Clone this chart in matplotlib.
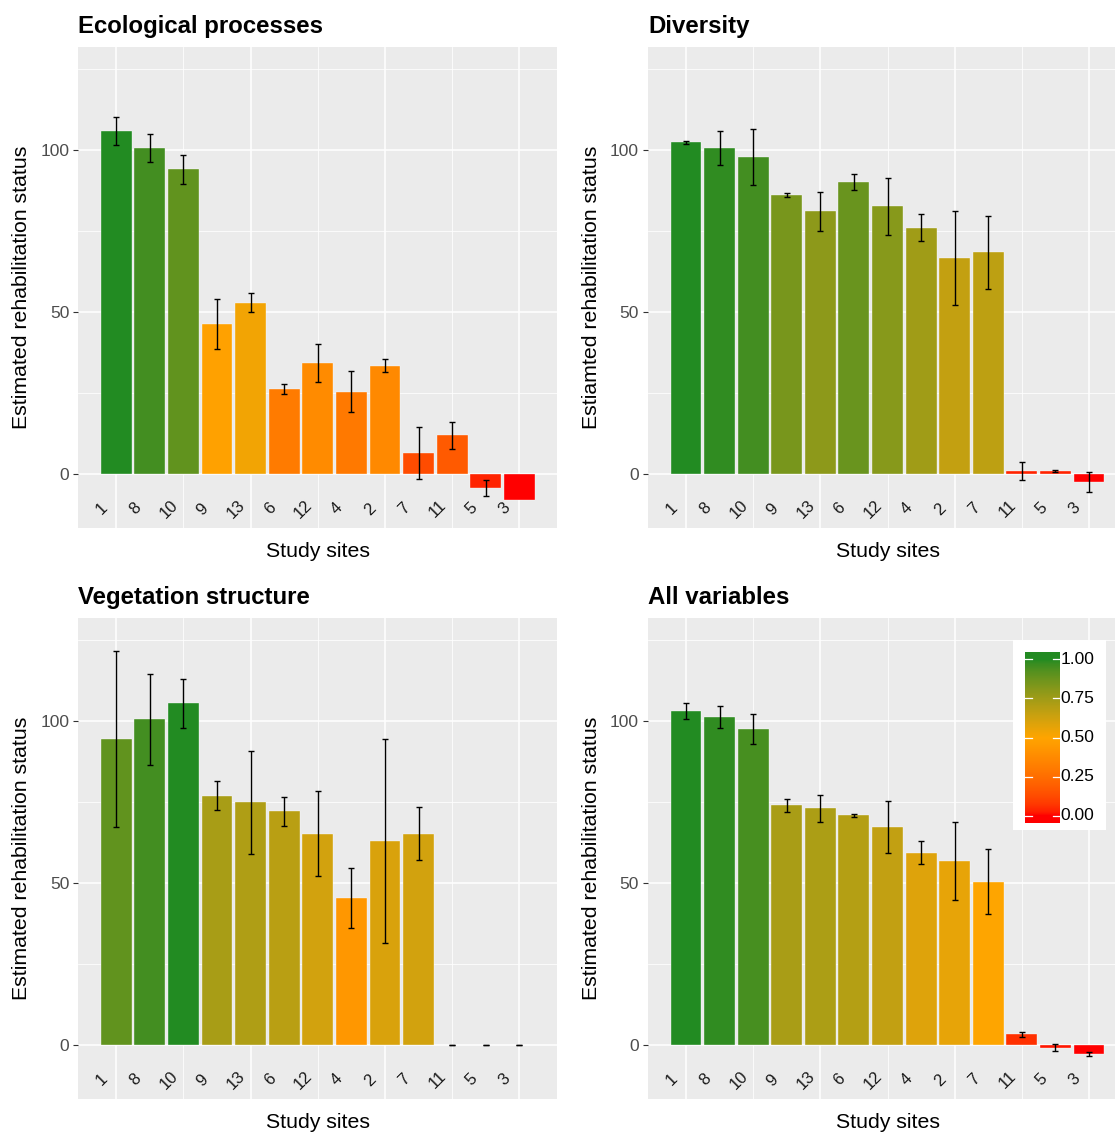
import numpy as np
import matplotlib
matplotlib.use("Agg")
import matplotlib.pyplot as plt
from matplotlib.colors import ListedColormap

plt.rcParams['font.family'] = ['Liberation Sans', 'DejaVu Sans']

# Study sites, in the order they are plotted
sites = ["1", "8", "10", "9", "13", "6", "12", "4", "2", "7", "11", "5", "3"]

titles = ["Ecological processes", "Diversity", "Vegetation structure", "All variables"]
ylabels = ["Estimated rehabilitation status", "Estiamted rehabilitation status",
           "Estimated rehabilitation status", "Estimated rehabilitation status"]

# Estimated rehabilitation status (mean) and error half-widths per panel
eco_mean = [105.8, 100.5, 93.9, 46.3, 52.8, 26.2, 34.2, 25.3, 33.4, 6.4, 11.9, -4.4, -8.1]
eco_err = [4.4, 4.4, 4.4, 7.8, 3.0, 1.4, 5.8, 6.3, 1.9, 8.1, 4.2, 2.5, np.nan]
div_mean = [102.3, 100.5, 97.7, 86.0, 81.0, 90.0, 82.5, 76.0, 66.7, 68.3, 0.9, 0.9, -2.4]
div_err = [0.5, 5.3, 8.6, 0.6, 6.0, 2.4, 8.8, 4.1, 14.5, 11.3, 2.8, 0.3, 3.1]
veg_mean = [94.4, 100.4, 105.3, 76.9, 74.8, 72.0, 65.2, 45.4, 63.0, 65.2, 0.0, 0.0, 0.0]
veg_err = [27.1, 14.1, 7.5, 4.4, 15.9, 4.5, 13.0, 9.2, 31.5, 8.3, 0.0, 0.0, 0.0]
all_mean = [102.9, 101.0, 97.4, 73.9, 73.0, 70.8, 67.3, 59.3, 56.8, 50.4, 3.3, -0.9, -2.8]
all_err = [2.5, 3.4, 4.6, 2.1, 4.1, 0.35, 8.0, 3.5, 12.0, 10.1, 0.7, 1.1, 0.5]

means = [eco_mean, div_mean, veg_mean, all_mean]
errs = [eco_err, div_err, veg_err, all_err]

legend_breaks = [0.0, 0.25, 0.5, 0.75, 1.0]


# red -> orange -> forestgreen, interpolated in Lab space like ggplot does
M = np.array([[0.4124, 0.3576, 0.1805],
              [0.2126, 0.7152, 0.0722],
              [0.0193, 0.1192, 0.9505]])
WHITE = np.array([0.95047, 1.0, 1.08883])
D = 6 / 29


def to_lab(rgb):
    c = np.asarray(rgb, float)
    c = np.where(c > 0.04045, ((c + 0.055) / 1.055) ** 2.4, c / 12.92)
    xyz = M @ c / WHITE
    f = np.where(xyz > D ** 3, np.cbrt(xyz), xyz / (3 * D ** 2) + 4 / 29)
    return np.array([116 * f[1] - 16, 500 * (f[0] - f[1]), 200 * (f[1] - f[2])])


def from_lab(lab):
    fy = (lab[0] + 16) / 116
    f = np.array([fy + lab[1] / 500, fy, fy - lab[2] / 200])
    xyz = np.where(f > D, f ** 3, 3 * D ** 2 * (f - 4 / 29)) * WHITE
    c = np.linalg.solve(M, xyz)
    c = np.where(c > 0.0031308, 1.055 * np.clip(c, 0, None) ** (1 / 2.4) - 0.055, 12.92 * c)
    return np.clip(c, 0, 1)


low = to_lab([1.0, 0.0, 0.0])
mid = to_lab([1.0, 165 / 255, 0.0])
high = to_lab([34 / 255, 139 / 255, 34 / 255])
cols = []
for t in np.linspace(0, 1, 256):
    if t < 0.5:
        lab = low + (mid - low) * (t / 0.5)
    else:
        lab = mid + (high - mid) * ((t - 0.5) / 0.5)
    cols.append(from_lab(lab))
cmap = ListedColormap(cols)

W, H = 1115, 1135
fig = plt.figure(figsize=(W / 100, H / 100), dpi=100)

# panel positions in pixels: left, top
panel_px = [(78.3, 46.7), (648.0, 46.7), (78.3, 617.7), (648.0, 617.7)]
pw, ph = 479.0, 481.6

x = np.arange(len(sites))

for k in range(4):
    left, top = panel_px[k]
    ax = fig.add_axes([left / W, (H - top - ph) / H, pw / W, ph / H])
    ax.set_facecolor('#EBEBEB')
    for s in ax.spines.values():
        s.set_visible(False)

    m = np.array(means[k])
    e = np.array(errs[k])
    fill = (m - m.min()) / (m.max() - m.min())

    ax.bar(x, m, width=0.92, color=cmap(fill), edgecolor='white', linewidth=0.25, zorder=2)
    ok = ~np.isnan(e)
    ax.errorbar(x[ok], m[ok], yerr=e[ok], fmt='none', ecolor='black',
                elinewidth=1.0, capsize=2.4, capthick=1.0, zorder=3)

    for i, s in enumerate(sites):
        ax.text(i - 0.43, -10.8, s, rotation=45, ha='center', va='center',
                fontsize=12, color='#1A1A1A', zorder=4)

    ax.set_xlim(-1.13, 13.13)
    ax.set_ylim(-16.75, 131.75)
    ax.set_xticks([0, 4, 8, 12])
    ax.set_xticks([2, 6, 10], minor=True)
    ax.set_yticks([0, 50, 100])
    ax.set_yticks([25, 75, 125], minor=True)
    ax.set_axisbelow(True)
    ax.grid(which='major', color='white', linewidth=1.1)
    ax.grid(which='minor', color='white', linewidth=0.55)
    ax.tick_params(axis='x', which='both', length=0, labelbottom=False)
    ax.tick_params(axis='y', which='major', labelsize=12.5, labelcolor='#4D4D4D',
                   color='#333333', length=3.5, width=0.8, pad=3)
    ax.tick_params(axis='y', which='minor', length=0)

    ax.text(-56.8 / pw, 0.5, ylabels[k], transform=ax.transAxes, rotation=90,
            ha='center', va='center', fontsize=15.3, color='black')
    ax.text(0.5, -23.5 / ph, "Study sites", transform=ax.transAxes,
            ha='center', va='center', fontsize=15.3, color='black')
    ax.text(0.0, 1 + 13.4 / ph, titles[k], transform=ax.transAxes,
            ha='left', va='baseline', fontsize=17.3, fontweight='bold', color='black')

# colour legend drawn inside the last panel
box = fig.add_axes([1013 / W, (H - 830) / H, 93 / W, 190 / H], zorder=5)
box.set_facecolor('white')
box.set_xticks([])
box.set_yticks([])
for s in box.spines.values():
    s.set_visible(False)

cax = fig.add_axes([1025 / W, (H - 823) / H, 35 / W, 171 / H], zorder=6)
grad = np.linspace(-0.045, 1.045, 300).reshape(-1, 1)
cax.imshow(grad, cmap=cmap, vmin=0, vmax=1, aspect='auto', origin='lower',
           extent=[0, 1, -0.045, 1.045])
cax.set_xlim(0, 1)
cax.set_ylim(-0.045, 1.045)
cax.axis('off')
for b in legend_breaks:
    cax.plot([0, 0.2], [b, b], color='white', linewidth=0.9)
    cax.plot([0.8, 1.0], [b, b], color='white', linewidth=0.9)
    cax.text(1.02, b, "%.2f" % b, transform=cax.transData, ha='left', va='center',
             fontsize=12.5, color='black', clip_on=False)

fig.savefig("out.png", dpi=100)
